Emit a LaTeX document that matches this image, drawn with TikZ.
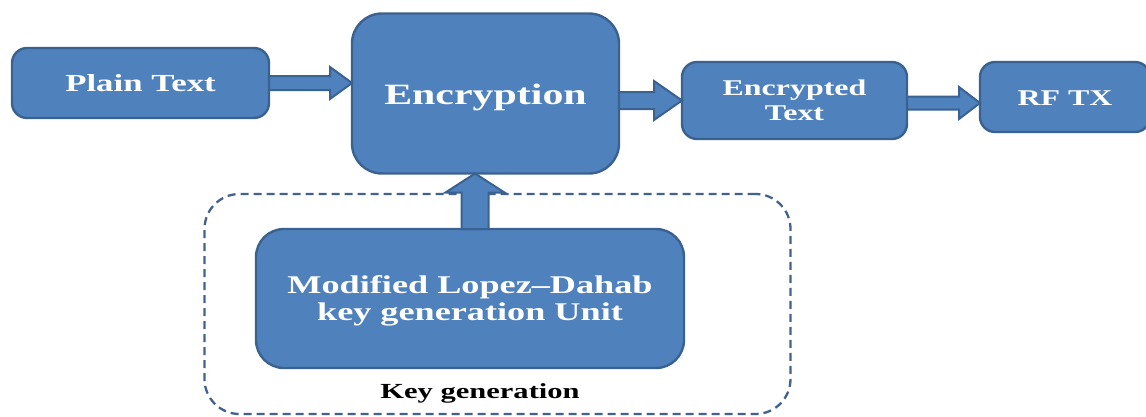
\documentclass[tikz,border=0pt]{standalone}
\usepackage{fontspec}
\setmainfont[FakeStretch=1.42]{Liberation Serif}
\usetikzlibrary{calc}
\definecolor{boxfill}{HTML}{4F81BD}
\definecolor{boxline}{HTML}{3A6291}
\definecolor{dashline}{HTML}{41628F}
\newcommand{\lowtext}[2]{\raisebox{#1}[0pt][0pt]{\begin{tabular}[t]{@{}c@{}}#2\end{tabular}}}
\begin{document}
\begin{tikzpicture}[x=1pt,y=-1pt,
  blk/.style={draw=boxline, line width=2.4pt, fill=boxfill, text=white, font=\bfseries, align=center, inner sep=0pt, outer sep=0pt},
  barrow/.style={draw=boxline, line width=2pt, fill=boxfill, line join=miter},
  dashbox/.style={draw=dashline, line width=2.3pt, dash pattern=on 8pt off 5pt, inner sep=0pt, outer sep=0pt}]
\useasboundingbox (0,0) rectangle (1146,416);
% nodes
\node[blk, rounded corners=15pt, minimum width=257pt, minimum height=70pt, font=\bfseries\fontsize{24.5}{28}\selectfont] (pt) at (140.5,83) {\lowtext{-8pt}{Plain Text}};
\node[blk, rounded corners=30pt, minimum width=267pt, minimum height=160pt, font=\bfseries\fontsize{29.5}{34}\selectfont] (enc) at (485.5,93.5) {\lowtext{-10.5pt}{Encryption}};
\node[blk, rounded corners=15pt, minimum width=225pt, minimum height=77pt, font=\bfseries\fontsize{22.5}{25}\selectfont] (ct) at (794.5,100.5) {\lowtext{5.5pt}{Encrypted\\Text}};
\node[blk, rounded corners=15pt, minimum width=170pt, minimum height=70pt, font=\bfseries\fontsize{22.5}{25}\selectfont] (rf) at (1065,97) {\lowtext{-8pt}{RF TX}};
\node[dashbox, rounded corners=35pt, minimum width=586pt, minimum height=220pt] (kgbox) at (497.5,304) {};
\node[blk, rounded corners=28pt, minimum width=428pt, minimum height=139pt, font=\bfseries\fontsize{25.5}{27}\selectfont] (kg) at (470,298.5) {\lowtext{5pt}{Modified Lopez--Dahab\\key generation Unit}};
\node[font=\bfseries\fontsize{21.5}{24}\selectfont, text=black, inner sep=0pt, anchor=base] (kglabel) at (480,398) {Key generation};
% block arrows
\coordinate (a1) at (enc.west|-pt.east);
\draw[barrow] ($(pt.east)+(0,-7)$) -- ($(a1)+(-22,-7)$) -- ($(a1)+(-22,-16)$) -- (a1) -- ($(a1)+(-22,16)$) -- ($(a1)+(-22,7)$) -- ($(pt.east)+(0,7)$) -- cycle;
\coordinate (a2) at (enc.east|-ct.west);
\draw[barrow] ($(a2)+(0,-8.5)$) -- ($(ct.west)+(-28,-8.5)$) -- ($(ct.west)+(-28,-19.5)$) -- (ct.west) -- ($(ct.west)+(-28,19.5)$) -- ($(ct.west)+(-28,8.5)$) -- ($(a2)+(0,8.5)$) -- cycle;
\coordinate (a3s) at ($(ct.east)+(0,2.5)$);
\coordinate (a3) at (rf.west|-a3s);
\draw[barrow] ($(a3s)+(0,-6.5)$) -- ($(a3)+(-21,-6.5)$) -- ($(a3)+(-21,-16)$) -- (a3) -- ($(a3)+(-21,16)$) -- ($(a3)+(-21,6.5)$) -- ($(a3s)+(0,6.5)$) -- cycle;
\coordinate (a4s) at ($(kg.north)+(5,0)$);
\coordinate (a4) at (a4s|-enc.south);
\draw[barrow] ($(a4s)+(-13.5,0)$) -- ($(a4)+(-13.5,19)$) -- ($(a4)+(-29.5,19)$) -- (a4) -- ($(a4)+(29.5,19)$) -- ($(a4)+(13.5,19)$) -- ($(a4s)+(13.5,0)$) -- cycle;
\end{tikzpicture}
\end{document}
